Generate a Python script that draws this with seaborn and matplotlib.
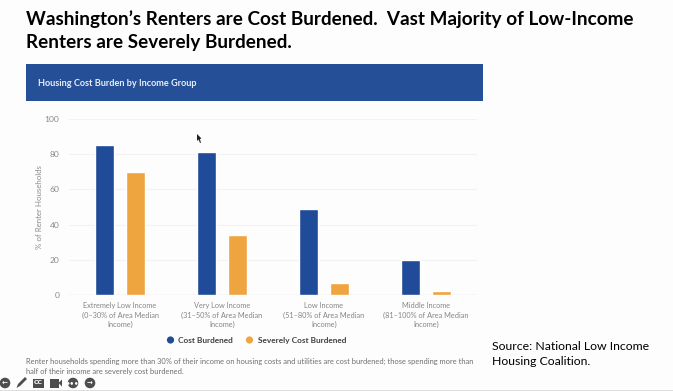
import pandas as pd
import numpy as np
import matplotlib
matplotlib.use("Agg")
import matplotlib.pyplot as plt
import seaborn as sns
from matplotlib.patches import Rectangle, Circle, Polygon
from matplotlib.transforms import IdentityTransform

groups = ["Extremely Low Income\n(0–30% of Area Median\nIncome)",
          "Very Low Income\n(31–50% of Area Median\nIncome)",
          "Low Income\n(51–80% of Area Median\nIncome)",
          "Middle Income\n(81–100% of Area Median\nIncome)"]
cost_burdened = [85, 81, 49, 20]
severely_burdened = [70, 34, 7, 2]
series_names = ["Cost Burdened", "Severely Cost Burdened"]
yticks = [0, 20, 40, 60, 80, 100]

title_text = "Washington’s Renters are Cost Burdened.  Vast Majority of Low-Income\nRenters are Severely Burdened."
note_text = ("Renter households spending more than 30% of their income on housing costs and utilities are cost burdened; those spending more than\n"
             "half of their income are severely cost burdened.")
source_text = "Source: National Low Income\nHousing Coalition."

BLUE = "#1f4b99"
ORANGE = "#eea43f"
W, H = 673, 391

df = pd.DataFrame({"group": groups * 2,
                   "value": cost_burdened + severely_burdened,
                   "series": [series_names[0]] * 4 + [series_names[1]] * 4})

sns.set_style("white")
plt.rcParams["font.family"] = ["Lato", "DejaVu Sans"]

fig = plt.figure(figsize=(W / 100, H / 100), dpi=100, facecolor="#fdfdfd")
ax = fig.add_axes([69 / W, 1 - 295 / H, 408 / W, 176 / H])
ax.set_facecolor("#fdfdfd")

sns.barplot(data=df, x="group", y="value", hue="series", palette=[BLUE, ORANGE],
            width=0.61, gap=0.37, saturation=1, legend=False, ax=ax)
ax.set_xlim(-0.5, 3.5)
ax.set_ylim(0, 100)
ax.set_yticks(yticks)
ax.grid(axis="y", color="#f2f2f4", lw=0.8)
ax.set_axisbelow(True)
sns.despine(ax=ax, left=True, bottom=True, top=True, right=True)
ax.axhline(0, color="#e6e6ea", lw=1, zorder=0)
ax.tick_params(axis="both", length=0)
ax.tick_params(axis="y", labelsize=6.1, labelcolor="#8a8a8a", pad=7)
ax.tick_params(axis="x", labelsize=5.35, labelcolor="#858585", pad=5)
plt.setp(ax.get_xticklabels(), linespacing=1.42)
ax.set_xlabel("")
ax.set_ylabel("% of Renter Households", fontsize=5.7, color="#8a8a8a", labelpad=1)


def px_patch(patch):
    patch.set_transform(IdentityTransform())
    fig.add_artist(patch)


# banner
px_patch(Rectangle((26, H - 101), 457, 37, facecolor="#254f96", edgecolor="none"))
fig.text(38.5 / W, 1 - 83.5 / H, "Housing Cost Burden by Income Group", color="#e8eef8",
         fontsize=6.55, fontweight="bold", va="center")

# heading
fig.text(26 / W, 1 - 30.5 / H, title_text, fontsize=13.55, fontweight="bold", color="black",
         va="center", linespacing=1.45)

# legend
for px, c in [(170.5, BLUE), (249.5, ORANGE)]:
    px_patch(Circle((px, H - 340), 3.6, facecolor=c, edgecolor="none"))
fig.text(178.5 / W, 1 - 340.5 / H, series_names[0], fontsize=5.95, fontweight="bold",
         color="#404040", va="center")
fig.text(257.5 / W, 1 - 340.5 / H, series_names[1], fontsize=5.95, fontweight="bold",
         color="#404040", va="center")

fig.text(26 / W, 1 - 366.5 / H, note_text, fontsize=5.4, color="#6f6f6f", va="center", linespacing=1.45)
fig.text(492 / W, 1 - 354 / H, source_text, fontsize=8.8, color="black", va="center", linespacing=1.4)

# cursor
px_patch(Polygon([(197, H - 134), (197, H - 141), (198.6, H - 139.5), (200, H - 143), (201, H - 142.5),
                  (199.8, H - 139), (201.5, H - 138.5)], facecolor="#222222", edgecolor="none"))

# player toolbar
for px, label in [(5, "←"), (73, "•••"), (90, "→")]:
    px_patch(Circle((px, H - 383), 5.3, facecolor="#4d4d4d", edgecolor="none"))
    fig.text(px / W, 1 - 383 / H, label, fontsize=5, color="white", ha="center", va="center",
             fontweight="bold", family="DejaVu Sans")
px_patch(Polygon([(16.5, H - 388), (18, H - 384), (25, H - 377), (27, H - 379), (20, H - 386)],
                 facecolor="#4d4d4d", edgecolor="none"))
px_patch(Rectangle((33, H - 388), 11, 9.5, facecolor="#4d4d4d", edgecolor="none"))
fig.text(38.5 / W, 1 - 383 / H, "CC", fontsize=4.5, color="white", ha="center", va="center", fontweight="bold",
         family="DejaVu Sans")
px_patch(Rectangle((50, H - 388), 8.5, 9.5, facecolor="#4d4d4d", edgecolor="none"))
px_patch(Polygon([(58.5, H - 383), (62, H - 379.5), (62, H - 386.5)], facecolor="#4d4d4d", edgecolor="none"))
px_patch(Rectangle((0, 0), W, 1.5, facecolor="#dddddd", edgecolor="none"))

fig.savefig("out.png", dpi=100, facecolor=fig.get_facecolor())
